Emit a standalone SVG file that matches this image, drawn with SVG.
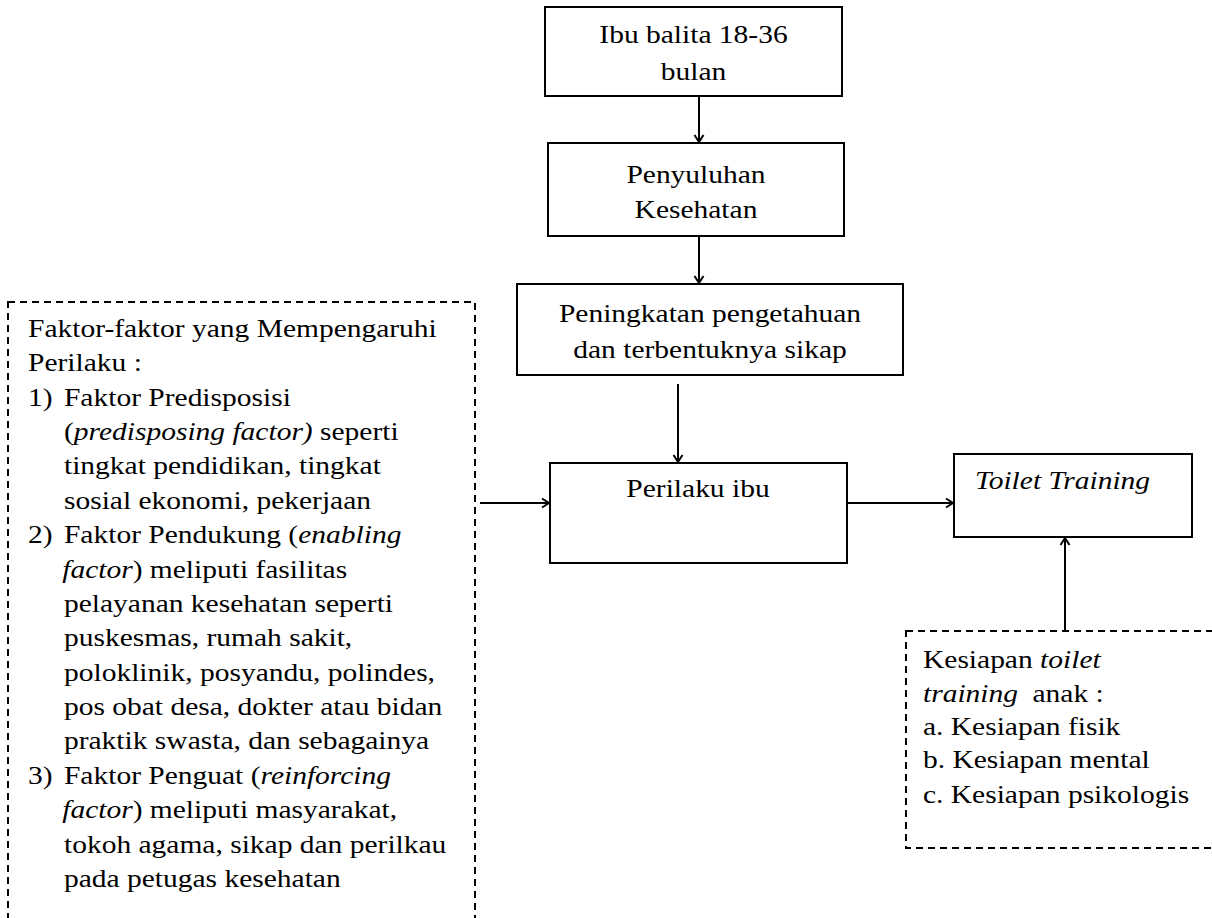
<svg xmlns="http://www.w3.org/2000/svg" width="1212" height="918" viewBox="0 0 1212 918">
<style>
text{font-family:"Liberation Serif","Times New Roman",serif;font-size:25px;fill:#000}
.c{text-anchor:middle}
.i{font-style:italic}
.box{fill:#fff;stroke:#000;stroke-width:2}
.dash{fill:none;stroke:#000;stroke-width:2;stroke-dasharray:7 5}
.conn line{stroke:#000;stroke-width:2;marker-end:url(#arr)}
</style>
<defs>
<marker id="arr" markerUnits="userSpaceOnUse" markerWidth="14" markerHeight="14" viewBox="-8 -7 14 14" refX="0" refY="0" orient="auto">
<path d="M-7,-4.5 L0,0 L-7,4.5" fill="none" stroke="#000" stroke-width="2"/>
</marker>
</defs>
<rect width="1212" height="918" fill="#fff"/>

<g id="ibu-balita">
<rect class="box" x="545" y="7" width="297" height="89"/>
<g transform="translate(693.5,0) scale(1.18,1)">
<text class="c" x="0" y="43">Ibu balita 18-36</text>
<text class="c" x="0" y="80">bulan</text>
</g>
</g>

<g id="penyuluhan">
<rect class="box" x="548" y="143" width="296" height="93"/>
<g transform="translate(696,0) scale(1.18,1)">
<text class="c" x="0" y="183">Penyuluhan</text>
<text class="c" x="0" y="218">Kesehatan</text>
</g>
</g>

<g id="peningkatan">
<rect class="box" x="517" y="284" width="386" height="91"/>
<g transform="translate(710,0) scale(1.18,1)">
<text class="c" x="0" y="322">Peningkatan pengetahuan</text>
<text class="c" x="0" y="358">dan terbentuknya sikap</text>
</g>
</g>

<g id="perilaku-ibu">
<rect class="box" x="550" y="463" width="297" height="100"/>
<g transform="translate(698,0) scale(1.18,1)">
<text class="c" x="0" y="497">Perilaku ibu</text>
</g>
</g>

<g id="toilet-training">
<rect class="box" x="954" y="454" width="238" height="83"/>
<g transform="translate(975,0) scale(1.18,1)">
<text class="i" x="0" y="489">Toilet Training</text>
</g>
</g>

<g id="faktor">
<rect class="dash" x="8" y="302" width="467" height="640"/>
<g transform="translate(28,0) scale(1.18,1)">
<text x="0" y="337">Faktor-faktor yang Mempengaruhi</text>
<text x="0" y="371.4">Perilaku :</text>
<text x="0" y="405.75">1)</text>
<text x="30.5" y="405.75">Faktor Predisposisi</text>
<text x="30.5" y="440.1">(<tspan class="i">predisposing factor)</tspan> seperti</text>
<text x="30.5" y="474.5">tingkat pendidikan, tingkat</text>
<text x="30.5" y="508.9">sosial ekonomi, pekerjaan</text>
<text x="0" y="543.25">2)</text>
<text x="30.5" y="543.25">Faktor Pendukung (<tspan class="i">enabling</tspan></text>
<text x="29" y="577.6"><tspan class="i">factor</tspan>) meliputi fasilitas</text>
<text x="30.5" y="612">pelayanan kesehatan seperti</text>
<text x="30.5" y="646.4">puskesmas, rumah sakit,</text>
<text x="30.5" y="680.75">poloklinik, posyandu, polindes,</text>
<text x="30.5" y="715.1">pos obat desa, dokter atau bidan</text>
<text x="30.5" y="749.5">praktik swasta, dan sebagainya</text>
<text x="0" y="783.9">3)</text>
<text x="30.5" y="783.9">Faktor Penguat (<tspan class="i">reinforcing</tspan></text>
<text x="29" y="818.25"><tspan class="i">factor</tspan>) meliputi masyarakat,</text>
<text x="30.5" y="852.6">tokoh agama, sikap dan perilkau</text>
<text x="30.5" y="887">pada petugas kesehatan</text>
</g>
</g>

<g id="kesiapan">
<rect class="dash" x="906" y="631" width="320" height="217"/>
<g transform="translate(923,0) scale(1.18,1)">
<text x="0" y="668">Kesiapan <tspan class="i">toilet</tspan></text>
<text x="0" y="702"><tspan class="i">training</tspan><tspan dx="6"> anak :</tspan></text>
<text x="0" y="735">a. Kesiapan fisik</text>
<text x="0" y="768">b. Kesiapan mental</text>
<text x="0" y="803">c. Kesiapan psikologis</text>
</g>
</g>

<g id="connectors" class="conn">
<line x1="699" y1="96" x2="699" y2="142"/>
<line x1="699" y1="236" x2="699" y2="283"/>
<line x1="678" y1="384" x2="678" y2="462"/>
<line x1="480" y1="503" x2="549" y2="503"/>
<line x1="847" y1="503" x2="953" y2="503"/>
<line x1="1065" y1="630" x2="1065" y2="538"/>
</g>
</svg>
